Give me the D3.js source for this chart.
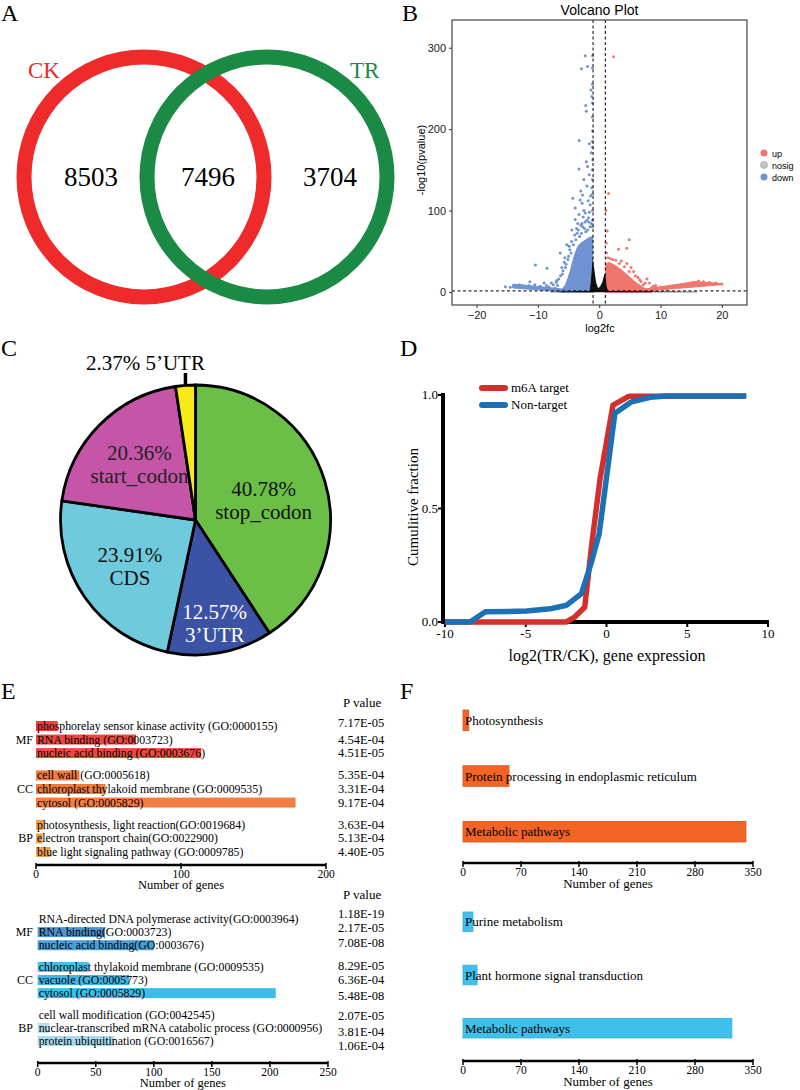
<!DOCTYPE html>
<html><head><meta charset="utf-8">
<script src="https://cdn.jsdelivr.net/npm/d3@7"></script>
<style>body{margin:0;background:#fff}</style>
</head><body><svg id="c" width="800" height="1090"></svg>
<script>
const SERIF="'Liberation Serif','Times New Roman',serif";
const SANS="'Liberation Sans',Arial,sans-serif";

// ---------- A: Venn ----------
const vennSets=["CK","TR"];
const vennCounts=[8503,7496,3704];

// ---------- B: Volcano ----------
const volcanoXTicks=[-20,-10,0,10,20];
const volcanoYTicks=[0,100,200,300];
const volcanoLegend=["up","nosig","down"];
const volcanoCutX=[-1,1];
const volcanoCutY=1.3;
const downPoints=[[-2.28,290],[-1.08,290],[-2.9,274],[-1.9,277],[-1.35,248],[-1.2,240],[-2.2,229],[-2.1,222],[-1.09,198],[-3.26,186],[-1.3,171],[-1.05,162],[-1.9,154],[-3.3,151],[-1.63,144],[-2.0,130],[-1.2,128],[-2.7,119],[-4.3,115],[-3.1,113],[-2.8,109],[-1.47,107],[-3.9,103],[-2.28,97],[-1.74,91],[-3.9,89],[-2.8,84],[-4.45,76],[-3.6,72],[-5.27,58],[-6.36,48],[-10.4,33],[-8.5,29],[-5.7,36.5],[-11.3,12.7],[-15.3,6.5],[-14.5,5.8],
[-1.1,275],[-1.1,255],[-1.1,232],[-1.1,215],[-1.1,185],[-1.1,178],[-1.1,150],[-1.1,138],[-1.1,120],[-1.1,100],[-1.1,88],[-1.1,80],
[-2.5,100],[-3.3,95],[-2.0,88],[-3.0,82],[-2.4,78],[-4.0,70],[-1.5,80],[-3.8,64],[-4.5,62],[-2.2,74],[-1.8,112],[-1.6,98],[-2.6,92],[-3.5,84],[-4.8,52],[-5.0,44],[-5.5,30],[-6.0,22],[-6.6,16],[-7.0,12],[-7.5,9],[-6.8,8],[-8.2,6],[-7.2,4.5],[-9.0,11],[-12.5,7.5],[-13.0,9],[-2.5,138],[-1.4,118],[-3.0,124],[-2.1,160],[-1.6,182],
[-3.4,76],[-2.9,72],[-1.9,76],[-1.3,84],[-2.7,80],[-3.2,68],[-4.2,58],[-4.6,48],[-5.1,40],[-5.4,34],[-5.9,26],[-6.3,20],[-6.9,14],[-7.8,11],[-8.6,8],[-9.6,7],[-10.5,9],[-11.5,8],[-2.3,86],[-1.7,86],[-3.7,78],[-4.9,56],[-5.6,42],[-6.1,30]];
const upPoints=[[2.34,289],[1.52,121],[4.9,64],[3.15,52.5],[4.5,53.7],[4.5,35],[7.8,16],[20,9.8],[16.2,13.5],[15.3,12],[1.2,48],[1.4,42],[2.2,40],[3.6,38],[5.6,25],[6.3,18],[6.8,13],[7.2,9],[8.8,7],[9.5,5],[10.5,4.5],[12,7],[13.5,9],[14.5,10],[1.15,60],[1.3,75],[1.1,100],[5.2,30],[8.2,11],[11,3],
[1.8,41],[2.7,39],[3.3,35],[4.1,31],[4.9,25],[5.9,20],[6.6,15],[7.5,11],[8.5,5],[9.2,8],[10,6],[11.6,5.5],[12.8,8],[14,9.5],[15,11],[17,12.5],[18,11.5],[19,11]];
const downDense=[[-6.4,0],[-6.0,3],[-5.5,8],[-5.1,16],[-4.7,25],[-4.4,34],[-4.1,42],[-3.8,49],[-3.4,56],[-2.9,60],[-2.3,63],[-1.7,66],[-1.1,68],[-1.1,0]];
const downFan=[[-14.1,9.6],[-9,6.0],[-6,3.6],[-3.5,1.5],[-3.5,0.3],[-8,1.4],[-14.1,5.0]];
const upDense=[[1.1,0],[1.1,34],[1.6,36],[2.4,33],[3.2,29],[4.0,24],[4.8,19],[5.5,14],[6.3,9.5],[7.2,5],[8.2,1.5],[8.5,0]];
const upFan=[[6.5,2.5],[16.2,13.2],[16.5,12.3],[20,10.3],[20,9],[6.5,0.5]];
const nosigDense=[[-1.6,0],[-1.4,10],[-1.2,28],[-1.05,42],[-0.8,28],[-0.5,12],[-0.2,5],[0.1,6],[0.5,12],[0.85,22],[1.05,20],[1.2,7],[1.5,0]];
const nosigBase=[[-8,0.3],[-3,1.2],[3,1.2],[16,0.4],[16,-0.4],[-8,-0.4]];

// ---------- C: Pie ----------
const pieLabels=["stop_codon","3’UTR","CDS","start_codon","5’UTR"];
const pieValues=[40.78,12.57,23.91,20.36,2.37];

// ---------- D: Cumulative ----------
const cdfSeries=["m6A target","Non-target"];
const cdfXTicks=[-10,-5,0,5,10];
const cdfYTicks=[0,0.5,1];
const m6aX=[-10,-2.5,-2.0,-1.35,-0.9,-0.4,0.4,1.4,8.6];
const m6aY=[0,0,0.02,0.065,0.35,0.63,0.955,0.995,0.995];
const nonX=[-10,-8.45,-7.5,-4.95,-3.5,-2.47,-1.55,-0.95,-0.45,0.52,1.55,2.7,3.7,8.66];
const nonY=[0,0,0.045,0.048,0.058,0.074,0.125,0.26,0.39,0.92,0.97,0.99,0.996,0.996];

// ---------- E: GO ----------
const goGroups=["MF","CC","BP"];
const goUpTerms=["phosphorelay sensor kinase activity (GO:0000155)","RNA binding (GO:0003723)","nucleic acid binding (GO:0003676)","cell wall (GO:0005618)","chloroplast thylakoid membrane (GO:0009535)","cytosol (GO:0005829)","photosynthesis, light reaction(GO:0019684)","electron transport chain(GO:0022900)","blue light signaling pathway (GO:0009785)"];
const goUpGroup=[0,0,0,1,1,1,2,2,2];
const goUpCounts=[15,69,114,30,48,179,5.5,4.5,10];
const goUpP=["7.17E-05","4.54E-04","4.51E-05","5.35E-04","3.31E-04","9.17E-04","3.63E-04","5.13E-04","4.40E-05"];
const goUpXTicks=[0,100,200];
const goDownTerms=["RNA-directed DNA polymerase activity(GO:0003964)","RNA binding(GO:0003723)","nucleic acid binding(GO:0003676)","chloroplast thylakoid membrane (GO:0009535)","vacuole (GO:0005773)","cytosol (GO:0005829)","cell wall modification (GO:0042545)","nuclear-transcribed mRNA catabolic process (GO:0000956)","protein ubiquitination (GO:0016567)"];
const goDownGroup=[0,0,0,1,1,1,2,2,2];
const goDownCounts=[0,58,100,44,79,205,0,10,66];
const goDownP=["1.18E-19","2.17E-05","7.08E-08","8.29E-05","6.36E-04","5.48E-08","2.07E-05","3.81E-04","1.06E-04"];
const goDownXTicks=[0,50,100,150,200,250];

// ---------- F: KEGG ----------
const keggUpTerms=["Photosynthesis","Protein processing in endoplasmic reticulum","Metabolic pathways"];
const keggUpCounts=[7,55.5,341.5];
const keggDownTerms=["Purine metabolism","Plant hormone signal transduction","Metabolic pathways"];
const keggDownCounts=[12,17,324.5];
const keggXTicks=[0,70,140,210,280,350];

const svg=d3.select("#c");

function panelLabel(t,x,y){svg.append("text").attr("x",x).attr("y",y).attr("font-family",SERIF).attr("font-size",24).text(t);}
panelLabel("A",1,21);panelLabel("B",402,21);panelLabel("C",1,356);panelLabel("D",400,356);panelLabel("E",1,699);panelLabel("F",400,699);

// ===== A =====
(function(){
  const g=svg.append("g");
  const cols=["#ee2a2b","#1a8a45"];
  const cx=[144,267], cy=177, r=120;
  vennSets.forEach((s,i)=>{
    g.append("circle").attr("cx",cx[i]).attr("cy",cy).attr("r",r).attr("fill","none").attr("stroke",cols[i]).attr("stroke-width",15);
  });
  g.append("text").attr("x",28).attr("y",78).attr("font-family",SERIF).attr("font-size",23).attr("fill",cols[0]).text(vennSets[0]);
  g.append("text").attr("x",350).attr("y",78).attr("font-family",SERIF).attr("font-size",23).attr("fill",cols[1]).text(vennSets[1]);
  const nx=[91,208,330];
  vennCounts.forEach((v,i)=>g.append("text").attr("x",nx[i]).attr("y",186).attr("text-anchor","middle").attr("font-family",SERIF).attr("font-size",27).text(v));
})();

// ===== B =====
(function(){
  const x=d3.scaleLinear().domain([-24,24.1]).range([452,747]);
  const y=d3.scaleLinear().domain([-16,334]).range([305,20]);
  const g=svg.append("g");
  g.append("defs").append("clipPath").attr("id","vc").append("rect").attr("x",452).attr("y",20).attr("width",295).attr("height",285);
  const p=g.append("g").attr("clip-path","url(#vc)");
  const line=d3.line().x(d=>x(d[0])).y(d=>y(d[1]));
  const cUp="#f0766d", cDown="#6f93d0";
  p.append("path").attr("d",line(downFan)+"Z").attr("fill",cDown).attr("stroke",cDown).attr("stroke-width",1);
  p.append("path").attr("d",line(downDense)+"Z").attr("fill",cDown).attr("stroke",cDown).attr("stroke-width",1.5).attr("stroke-linejoin","round");
  p.append("path").attr("d",line(upFan)+"Z").attr("fill",cUp).attr("stroke",cUp).attr("stroke-width",1);
  p.append("path").attr("d",line(upDense)+"Z").attr("fill",cUp).attr("stroke",cUp).attr("stroke-width",1.5).attr("stroke-linejoin","round");
  p.selectAll(".dp").data(downPoints).join("circle").attr("cx",d=>x(d[0])).attr("cy",d=>y(d[1])).attr("r",1.5).attr("fill",cDown);
  p.selectAll(".up").data(upPoints).join("circle").attr("cx",d=>x(d[0])).attr("cy",d=>y(d[1])).attr("r",1.5).attr("fill",cUp);
  p.append("path").attr("d",line(nosigBase)+"Z").attr("fill","#111");
  p.append("path").attr("d",line(nosigDense)+"Z").attr("fill","#111");
  volcanoCutX.forEach(v=>p.append("line").attr("x1",x(v)).attr("x2",x(v)).attr("y1",20).attr("y2",305).attr("stroke","#000").attr("stroke-dasharray","3,2.5").attr("stroke-width",1));
  p.append("line").attr("x1",452).attr("x2",747).attr("y1",y(volcanoCutY)).attr("y2",y(volcanoCutY)).attr("stroke","#000").attr("stroke-dasharray","3,2.5").attr("stroke-width",1);
  g.append("rect").attr("x",452).attr("y",20).attr("width",295).attr("height",285).attr("fill","none").attr("stroke","#444").attr("stroke-width",1.2);
  const ax=g.append("g").attr("transform","translate(0,305)").call(d3.axisBottom(x).tickValues(volcanoXTicks).tickSize(3).tickPadding(3));
  const ay=g.append("g").attr("transform","translate(452,0)").call(d3.axisLeft(y).tickValues(volcanoYTicks).tickSize(3).tickPadding(3));
  [ax,ay].forEach(a=>{a.select(".domain").remove();a.selectAll("line").attr("stroke","#333");a.selectAll("text").attr("font-family",SANS).attr("font-size",11).attr("fill","#222");});
  g.append("text").attr("x",599.5).attr("y",15).attr("text-anchor","middle").attr("font-family",SANS).attr("font-size",14).text("Volcano Plot");
  g.append("text").attr("x",600).attr("y",332).attr("text-anchor","middle").attr("font-family",SANS).attr("font-size",11).text("log2fc");
  g.append("text").attr("transform","translate(425,160) rotate(-90)").attr("text-anchor","middle").attr("font-family",SANS).attr("font-size",11).text("-log10(pvalue)");
  const lc=[cUp,"#c4c4c4",cDown];
  volcanoLegend.forEach((t,i)=>{
    g.append("circle").attr("cx",764).attr("cy",153+i*12).attr("r",3.5).attr("fill",lc[i]).attr("stroke",i==1?"#999":"none").attr("stroke-width",0.6);
    g.append("text").attr("x",772).attr("y",156.5+i*12).attr("font-family",SANS).attr("font-size",9).text(t);
  });
})();

// ===== C =====
(function(){
  const cx=195.5, cy=520, r=135;
  const g=svg.append("g").attr("transform",`translate(${cx},${cy})`);
  const cols=["#6cbf46","#3c52a4","#6ecadc","#c455a7","#f6ea18"];
  const arcs=d3.pie().sort(null).value(d=>d)(pieValues);
  const arc=d3.arc().innerRadius(0).outerRadius(r);
  g.selectAll("path").data(arcs).join("path").attr("d",arc).attr("fill",(d,i)=>cols[i]).attr("stroke","#000").attr("stroke-width",2.8).attr("stroke-linejoin","round");
  const lr=[71,105,80,79];
  const tcol=["#111","#fff","#111","#222"];
  arcs.slice(0,4).forEach((d,i)=>{
    const a=(d.startAngle+d.endAngle)/2;
    let lx=Math.sin(a)*lr[i], ly=-Math.cos(a)*lr[i];
    const t=g.append("text").attr("text-anchor","middle").attr("font-family",SERIF).attr("font-size",21).attr("fill",tcol[i]);
    t.append("tspan").attr("x",lx).attr("y",ly-4).text(pieValues[i].toFixed(2)+"%");
    t.append("tspan").attr("x",lx).attr("y",ly+19).text(pieLabels[i]);
  });
  const d5=arcs[4], a5=(d5.startAngle+d5.endAngle)/2;
  const ex=Math.sin(a5)*r;
  g.append("line").attr("x1",ex).attr("x2",ex).attr("y1",-r-1).attr("y2",-r-12).attr("stroke","#000").attr("stroke-width",3.5);
  g.append("text").attr("x",ex-40).attr("y",-r-15).attr("text-anchor","middle").attr("font-family",SERIF).attr("font-size",21).text(pieValues[4].toFixed(2)+"% "+pieLabels[4]);
})();

// ===== D =====
(function(){
  const x=d3.scaleLinear().domain([-10,10]).range([445,768]);
  const y=d3.scaleLinear().domain([0,1]).range([622,395]);
  const g=svg.append("g");
  g.append("line").attr("x1",443).attr("x2",443).attr("y1",393).attr("y2",624).attr("stroke","#000").attr("stroke-width",4);
  g.append("line").attr("x1",441).attr("x2",769).attr("y1",622).attr("y2",622).attr("stroke","#000").attr("stroke-width",4);
  cdfYTicks.forEach(v=>{
    g.append("line").attr("x1",438).attr("x2",443).attr("y1",y(v)).attr("y2",y(v)).attr("stroke","#000").attr("stroke-width",2);
    g.append("text").attr("x",438).attr("y",y(v)+4).attr("text-anchor","end").attr("font-family",SERIF).attr("font-size",13).text(v.toFixed(1));
  });
  cdfXTicks.forEach(v=>{
    g.append("line").attr("x1",x(v)).attr("x2",x(v)).attr("y1",622).attr("y2",627).attr("stroke","#000").attr("stroke-width",2);
    g.append("text").attr("x",x(v)).attr("y",638).attr("text-anchor","middle").attr("font-family",SERIF).attr("font-size",13).text(v);
  });
  const line=d3.line().x(d=>x(d[0])).y(d=>y(d[1]));
  const cR="#d42f2a", cB="#1b70b6";
  g.append("path").attr("d",line(m6aX.map((v,i)=>[v,m6aY[i]]))).attr("fill","none").attr("stroke",cR).attr("stroke-width",5.5).attr("stroke-linejoin","round");
  g.append("path").attr("d",line(nonX.map((v,i)=>[v,nonY[i]]))).attr("fill","none").attr("stroke",cB).attr("stroke-width",5.5).attr("stroke-linejoin","round");
  [cR,cB].forEach((c,i)=>{
    g.append("line").attr("x1",482).attr("x2",505).attr("y1",388+i*17).attr("y2",388+i*17).attr("stroke",c).attr("stroke-width",6).attr("stroke-linecap","round");
    g.append("text").attr("x",511).attr("y",392+i*17).attr("font-family",SERIF).attr("font-size",13).text(cdfSeries[i]);
  });
  g.append("text").attr("x",607).attr("y",661).attr("text-anchor","middle").attr("font-family",SERIF).attr("font-size",16).text("log2(TR/CK), gene expression");
  g.append("text").attr("transform","translate(418,507) rotate(-90)").attr("text-anchor","middle").attr("font-family",SERIF).attr("font-size",15).text("Cumulitive fraction");
})();

// ===== E =====
function goPanel(terms,groups,counts,pvals,colors,xmax,ticks,xr,yr,axisY,pHeadY,pOff){
  const g=svg.append("g");
  const x=d3.scaleLinear().domain([0,xmax]).range(xr);
  const pos=terms.map((t,i)=>i+groups[i]*0.65);
  const y=d3.scaleLinear().domain([0,8+2*0.65]).range(yr);
  g.selectAll("rect").data(counts).join("rect").attr("x",x(0)).attr("y",(d,i)=>y(pos[i])-5).attr("width",d=>x(d)-x(0)).attr("height",10).attr("fill",(d,i)=>colors[i]);
  terms.forEach((t,i)=>{
    g.append("text").attr("x",x(0)+1).attr("y",y(pos[i])+4).attr("font-family",SERIF).attr("font-size",11.8).text(t);
    g.append("text").attr("x",338).attr("y",y(pos[i])+4+pOff[i]).attr("font-family",SERIF).attr("font-size",12.5).text(pvals[i]);
  });
  goGroups.forEach((gr,k)=>{
    const idx=groups.indexOf(k)+1;
    g.append("text").attr("x",33).attr("y",y(pos[idx])+4).attr("text-anchor","end").attr("font-family",SERIF).attr("font-size",12).text(gr);
  });
  g.append("text").attr("x",343).attr("y",pHeadY).attr("font-family",SERIF).attr("font-size",13).text("P value");
  g.append("line").attr("x1",xr[0]).attr("x2",xr[1]).attr("y1",axisY).attr("y2",axisY).attr("stroke","#000").attr("stroke-width",2.5);
  ticks.forEach(v=>{
    g.append("line").attr("x1",x(v)).attr("x2",x(v)).attr("y1",axisY-2).attr("y2",axisY+4).attr("stroke","#000").attr("stroke-width",1.5);
    g.append("text").attr("x",x(v)).attr("y",axisY+13).attr("text-anchor","middle").attr("font-family",SERIF).attr("font-size",11.5).text(v);
  });
  g.append("text").attr("x",(xr[0]+xr[1])/2).attr("y",axisY+24).attr("text-anchor","middle").attr("font-family",SERIF).attr("font-size",12.5).text("Number of genes");
}
goPanel(goUpTerms,goUpGroup,goUpCounts,goUpP,
  ["#e8453f","#e9473f","#ea4a40","#ef7b3e","#ef7a3d","#f47d42","#f0a04b","#f0a04b","#f0a04b"],
  200,goUpXTicks,[36,326],[726,852],865,707,[-3,0,0,0,0,0,0,0,0]);
goPanel(goDownTerms,goDownGroup,goDownCounts,goDownP,
  ["#ffffff","#4f93cd","#4b9fd8","#45c0ea","#3fb6e6","#3dbde9","#ffffff","#b3dff1","#a9dbf0"],
  250,goDownXTicks,[37.7,328],[919,1041],1063,899,[-5,-4,-2,-1,0,3,1,4,5]);

// ===== F =====
function keggPanel(terms,counts,color,stroke,yr,axisY){
  const g=svg.append("g");
  const x=d3.scaleLinear().domain([0,350]).range([463,753]);
  const y=d3.scaleBand().domain(terms.map((t,i)=>i)).range(yr).paddingInner(0.63).paddingOuter(0);
  g.selectAll("rect").data(counts).join("rect").attr("x",x(0)).attr("y",(d,i)=>y(i)).attr("width",d=>x(d)-x(0)).attr("height",y.bandwidth()).attr("fill",color).attr("stroke",stroke).attr("stroke-width",0.8);
  terms.forEach((t,i)=>g.append("text").attr("x",x(0)+2).attr("y",y(i)+y.bandwidth()/2+4.5).attr("font-family",SERIF).attr("font-size",13).text(t));
  g.append("line").attr("x1",x(0)).attr("x2",x(350)).attr("y1",axisY).attr("y2",axisY).attr("stroke","#000").attr("stroke-width",2.5);
  keggXTicks.forEach(v=>{
    g.append("line").attr("x1",x(v)).attr("x2",x(v)).attr("y1",axisY-2).attr("y2",axisY+4).attr("stroke","#000").attr("stroke-width",1.5);
    g.append("text").attr("x",x(v)).attr("y",axisY+13).attr("text-anchor","middle").attr("font-family",SERIF).attr("font-size",11.5).text(v);
  });
  g.append("text").attr("x",(x(0)+x(350))/2).attr("y",axisY+25).attr("text-anchor","middle").attr("font-family",SERIF).attr("font-size",13).text("Number of genes");
}
keggPanel(keggUpTerms,keggUpCounts,"#f26424","#d9531a",[710,842],863);
keggPanel(keggDownTerms,keggDownCounts,"#3ec0ea","#36b0dc",[912,1038],1061);
</script></body></html>
